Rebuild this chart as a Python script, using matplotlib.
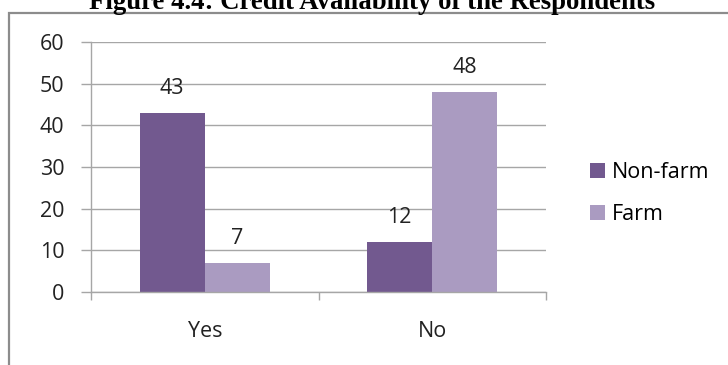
import numpy as np
import matplotlib; matplotlib.use("Agg")
import matplotlib.pyplot as plt
from matplotlib.patches import Rectangle

categories = ["Yes", "No"]
series_names = ["Non-farm", "Farm"]
non_farm = [43, 12]
farm = [7, 48]
yticks = [0, 10, 20, 30, 40, 50, 60]

colors = ["#72598F", "#AA9BC1"]
grid_c = "#A6A6A6"
fs = 15.5
plt.rcParams["font.family"] = ["Open Sans", "DejaVu Sans"]

fig = plt.figure(figsize=(7.28, 3.65), dpi=100)
# outer chart frame (right/bottom edges fall outside the picture)
fig.add_artist(Rectangle((9/728, -0.1), 1.2, 1 - 13/365 + 0.1, transform=fig.transFigure,
                         fill=False, ec="#8C8C8C", lw=1.6))
fig.text(372/728, 1 - 9/365, "Figure 4.4: Credit Availability of the Respondents",
         ha="center", va="baseline", fontsize=19.3, fontweight="bold", family="Liberation Serif")

ax = fig.add_axes([91/728, 73/365, 455/728, 250/365])
x = np.arange(len(categories))
w = 0.286
bars = [ax.bar(x - w/2, non_farm, w, color=colors[0], label=series_names[0], zorder=3),
        ax.bar(x + w/2, farm, w, color=colors[1], label=series_names[1], zorder=3)]
for b in bars:
    for r in b:
        ax.annotate(f"{r.get_height():g}", (r.get_x() + r.get_width()/2, r.get_height()),
                    textcoords="offset points", xytext=(0, 17.5), ha="center", va="center",
                    fontsize=fs, color="#222222")

ax.set_xlim(-0.5, 1.5); ax.set_ylim(0, 60)
ax.set_yticks(yticks)
ax.yaxis.grid(True, color=grid_c, lw=1, zorder=0)
ax.set_xticks(x); ax.set_xticklabels(categories)
ax.set_xticks([-0.5, 0.5, 1.5], minor=True)
ax.tick_params(axis="x", which="major", length=0, pad=21, labelsize=fs, labelcolor="#222222")
ax.tick_params(axis="x", which="minor", length=6, width=1, color=grid_c, direction="out")
ax.tick_params(axis="y", length=7, width=1, color=grid_c, pad=12, labelsize=fs, labelcolor="#222222")
for s in ["top", "right"]:
    ax.spines[s].set_visible(False)
for s in ["left", "bottom"]:
    ax.spines[s].set_color(grid_c)
    ax.spines[s].set_linewidth(1)
ax.spines["bottom"].set_zorder(4)

ax.legend(loc="center left", bbox_to_anchor=(1.055, 0.394), frameon=False, fontsize=fs,
          handlelength=0.68, handleheight=0.68, handletextpad=0.3, labelspacing=0.95)

fig.savefig("out.png", dpi=100)
